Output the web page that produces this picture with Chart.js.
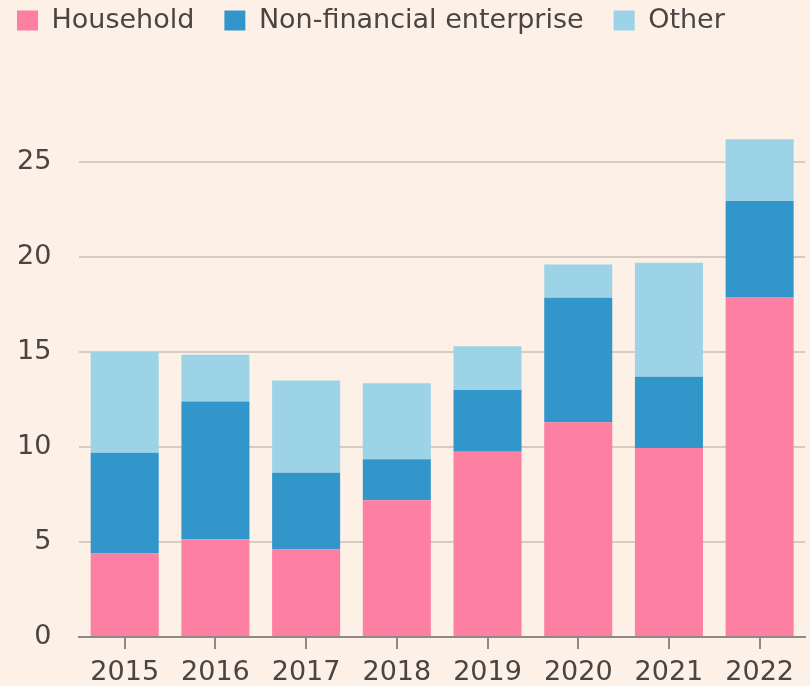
<!DOCTYPE html>
<html lang="en">
<head>
    <meta charset="UTF-8">
    <title>Stacked bars</title>
    <script src="https://cdn.jsdelivr.net/npm/chart.js"></script>
    <style>
        html, body { margin: 0; padding: 0; background: #fdf0e6; }
        #wrap { width: 810px; height: 686px; }
    </style>
</head>
<body>
    <div id="wrap"><canvas id="chart" width="810" height="686"></canvas></div>

    <script>
        const years = ["2015", "2016", "2017", "2018", "2019", "2020", "2021", "2022"];
        const household = [4.4, 5.15, 4.6, 7.2, 9.75, 11.3, 9.95, 17.9];
        const nonFinancial = [5.3, 7.25, 4.05, 2.15, 3.25, 6.55, 3.75, 5.05];
        const other = [5.3, 2.45, 4.85, 4.0, 2.3, 1.75, 6.0, 3.25];
        const yTicks = [0, 5, 10, 15, 20, 25];

        const textColor = "#4a4542";
        const fontFamily = "'DejaVu Sans', sans-serif";

        // reserve room under the legend, and pull the legend to the top-left corner
        const legendSpace = {
            id: "legendSpace",
            beforeInit(chart) {
                const fit = chart.legend.fit;
                chart.legend.fit = function () {
                    fit.bind(chart.legend)();
                    this.height = 124;
                };
            },
            beforeDraw(chart) {
                chart.legend.left = -13;
                chart.legend.top = -23;
            }
        };

        new Chart(document.getElementById("chart").getContext("2d"), {
            type: "bar",
            data: {
                labels: years,
                datasets: [
                    { label: "Household", data: household, backgroundColor: "#fd7fa2" },
                    { label: "Non-financial enterprise", data: nonFinancial, backgroundColor: "#3396cb" },
                    { label: "Other", data: other, backgroundColor: "#9dd3e6" }
                ]
            },
            options: {
                responsive: false,
                animation: false,
                barPercentage: 0.75,
                categoryPercentage: 1.0,
                layout: { padding: { left: -11, right: 5, top: 0, bottom: 0 } },
                plugins: {
                    tooltip: { enabled: false },
                    legend: {
                        position: "top",
                        align: "start",
                        labels: {
                            boxWidth: 21,
                            boxHeight: 20,
                            padding: 30,
                            color: textColor,
                            font: { family: fontFamily, size: 27 }
                        }
                    }
                },
                scales: {
                    x: {
                        stacked: true,
                        afterFit(scale) {
                            scale.height = 49;
                        },
                        border: { display: true, color: "#8f8883", width: 2 },
                        grid: {
                            offset: false,
                            drawOnChartArea: false,
                            drawTicks: true,
                            tickLength: 12,
                            color: "#8f8883",
                            lineWidth: 2
                        },
                        ticks: {
                            color: textColor,
                            padding: 8,
                            maxRotation: 0,
                            font: { family: fontFamily, size: 27 }
                        }
                    },
                    y: {
                        stacked: true,
                        min: 0,
                        max: 27,
                        border: { display: false },
                        afterBuildTicks(scale) {
                            scale.ticks = yTicks.map(v => ({ value: v }));
                        },
                        grid: {
                            drawTicks: false,
                            color: "#d8ccc2",
                            lineWidth: 2
                        },
                        ticks: {
                            color: textColor,
                            padding: 28,
                            font: { family: fontFamily, size: 27 }
                        }
                    }
                }
            },
            plugins: [legendSpace]
        });
    </script>
</body>
</html>
